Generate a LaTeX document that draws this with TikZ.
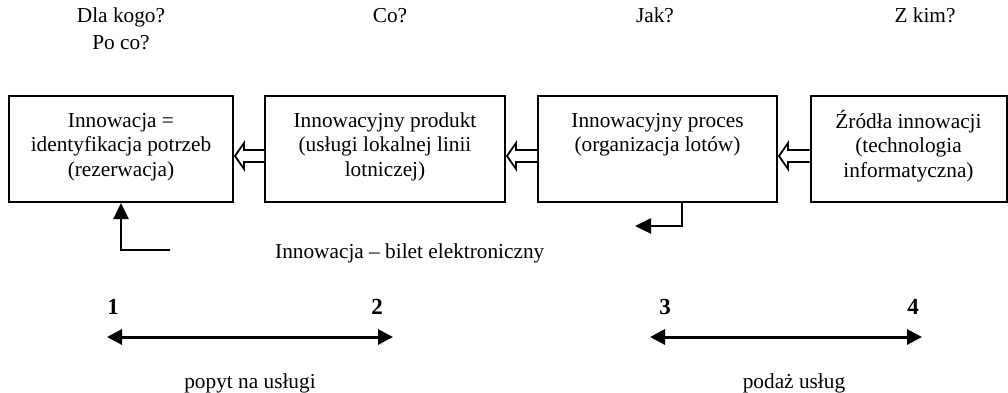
\documentclass[tikz,border=0pt]{standalone}
\usepackage{fontspec}
\setmainfont{Liberation Serif}
\usetikzlibrary{arrows.meta,calc}
\tikzset{
  box/.style={draw, line width=2pt, minimum width=224pt, minimum height=106pt, inner sep=0pt},
  boxtext/.style={anchor=north, align=center, inner sep=0pt, font=\fontsize{21.3}{24.5}\selectfont},
  head/.style={align=center, inner sep=0pt, font=\fontsize{21.3}{27}\selectfont},
  plain/.style={inner sep=0pt, font=\fontsize{21.3}{24.5}\selectfont},
  num/.style={inner sep=0pt, anchor=base, font=\fontsize{23}{24.5}\selectfont\bfseries},
  harrow/.style={draw, line width=1.8pt, fill=white, line join=miter},
  sarrow/.style={draw, line width=2.4pt, -{Triangle[length=16pt,width=15pt]}},
  darrow/.style={draw, line width=3pt, {Triangle[length=15pt,width=15pt]}-{Triangle[length=15pt,width=15pt]}}
}
\newcommand{\hollowarr}[2]{%
  \draw[harrow] ($(#1.west)+(0,1)$) -- ($(#2.east)+(10,1)$) -- ($(#2.east)+(10,-6)$)
    -- ($(#2.east)+(1,7)$) -- ($(#2.east)+(10,20)$) -- ($(#2.east)+(10,13)$)
    -- ($(#1.west)+(0,13)$);}
\begin{document}
\begin{tikzpicture}[x=1pt,y=-1pt]
\useasboundingbox (0,0) rectangle (1008,392);
% headings
\node[head, anchor=north] (h1) at (121,3) {\strut Dla kogo?\\Po co?};
\node[head, anchor=north] (h2) at (390,3) {\strut Co?};
\node[head, anchor=north] (h3) at (655,3) {\strut Jak?};
\node[head, anchor=north] (h4) at (925,3) {\strut Z kim?};
% boxes
\node[box, minimum width=224pt] (b1) at (121,149) {};
\node[box, minimum width=240pt] (b2) at (385,149) {};
\node[box, minimum width=239pt] (b3) at (657.5,149) {};
\node[box, minimum width=196pt] (b4) at (908.5,149) {};
\node[boxtext] (t1) at (121,110) {\strut Innowacja =\\identyfikacja potrzeb\\(rezerwacja)};
\node[boxtext] (t2) at (385,110) {\strut Innowacyjny produkt\\(usługi lokalnej linii\\lotniczej)};
\node[boxtext] (t3) at (657.5,110) {\strut Innowacyjny proces\\(organizacja lotów)};
\node[boxtext] (t4) at (908.5,110) {\strut Źródła innowacji\\(technologia\\informatyczna)};
% hollow arrows
\hollowarr{b2}{b1}
\hollowarr{b3}{b2}
\hollowarr{b4}{b3}
% L arrows
\coordinate (c1) at (170,250);
\draw[sarrow] (c1) -| (b1.south);
\coordinate (c2) at (635,226);
\draw[sarrow] ([xshift=24.5pt]b3.south) |- (c2);
\node[plain, anchor=base west] (inn) at (275,258) {Innowacja – bilet elektroniczny};
% numbers
\node[num] (n1) at (113,314) {1};
\node[num] (n2) at (377,314) {2};
\node[num] (n3) at (665,314) {3};
\node[num] (n4) at (913,314) {4};
\coordinate (d1) at (107,337);
\coordinate (d2) at (393,337);
\coordinate (d3) at (650,337);
\coordinate (d4) at (922,337);
\draw[darrow] (d1) -- (d2);
\draw[darrow] (d3) -- (d4);
\node[plain, anchor=base] (p1) at (250,388) {popyt na usługi};
\node[plain, anchor=base] (p2) at (794,388) {podaż usług};
\end{tikzpicture}
\end{document}
